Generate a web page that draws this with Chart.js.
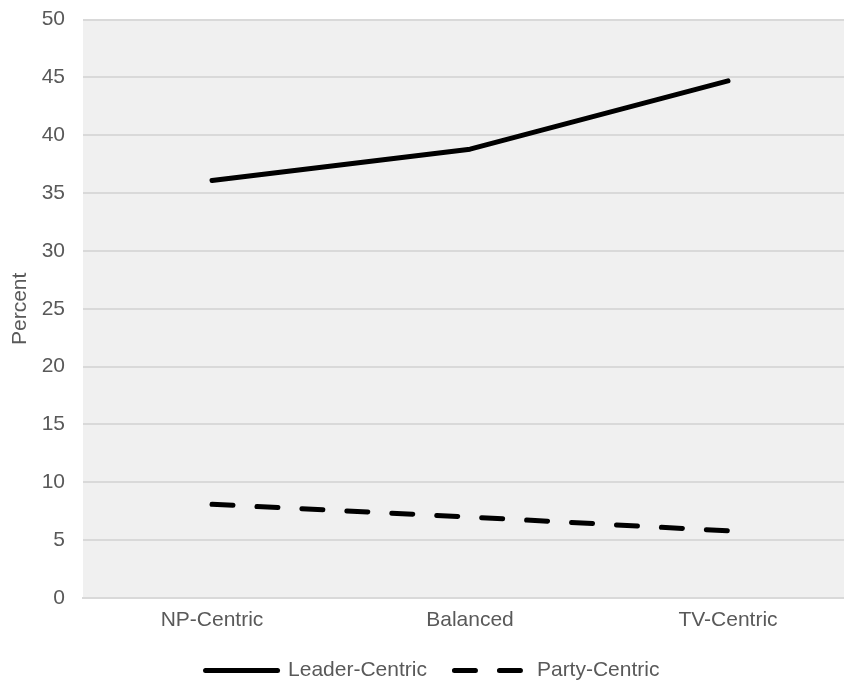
<!DOCTYPE html>
<html>
<head>
<meta charset="utf-8">
<script src="https://cdn.jsdelivr.net/npm/chart.js@4"></script>
<style>
  html, body { margin: 0; padding: 0; background: #fff; overflow: hidden; }
  #wrap { width: 865px; height: 702px; margin-top: -11px; }
</style>
</head>
<body>
<div id="wrap"><canvas id="grafica"></canvas></div>
<script>
// datos
const categorias = ["NP-Centric", "Balanced", "TV-Centric"];
const liderCentric = [36.1, 38.8, 44.7];
const partidoCentric = [8.1, 7.0, 5.8];
const ticksY = [0, 5, 10, 15, 20, 25, 30, 35, 40, 45, 50];

const gris = "#595959";
const fuente = "'Liberation Sans', Arial, sans-serif";

// fondo gris del area de trazado
const fondoArea = {
  id: "fondoArea",
  beforeDraw(chart) {
    const { ctx, chartArea } = chart;
    ctx.save();
    ctx.fillStyle = "#f0f0f0";
    ctx.fillRect(chartArea.left, chartArea.top, chartArea.right - chartArea.left, chartArea.bottom - chartArea.top);
    ctx.restore();
  }
};

const ctx = document.getElementById("grafica").getContext("2d");
new Chart(ctx, {
  type: "line",
  data: {
    labels: categorias,
    datasets: [
      {
        label: "Leader-Centric",
        data: liderCentric,
        borderColor: "#000",
        backgroundColor: "#000",
        borderWidth: 5,
        borderCapStyle: "round",
        borderJoinStyle: "round",
        pointRadius: 0,
        tension: 0,
        fill: false
      },
      {
        label: "Party-Centric",
        data: partidoCentric,
        borderColor: "#000",
        backgroundColor: "#000",
        borderWidth: 5,
        borderDash: [21, 24],
        borderCapStyle: "round",
        pointRadius: 0,
        tension: 0,
        fill: false
      }
    ]
  },
  options: {
    responsive: true,
    maintainAspectRatio: false,
    animation: false,
    layout: { padding: { top: 7, left: 8, right: 8, bottom: 0 } },
    plugins: {
      tooltip: { enabled: false },
      legend: {
        position: "bottom",
        labels: {
          usePointStyle: true,
          pointStyle: "line",
          pointStyleWidth: 72,
          boxHeight: 21,
          color: gris,
          font: { family: fuente, size: 21 },
          padding: 10,
          // el estilo de linea (guiones) se copia del dataset
          generateLabels(chart) {
            const items = Chart.defaults.plugins.legend.labels.generateLabels(chart);
            items.forEach((it, i) => {
              const ds = chart.data.datasets[it.datasetIndex];
              it.lineDash = ds.borderDash || [];
              it.lineCap = "round";
              it.lineWidth = 5;
              // un poco mas de separacion entre las dos entradas
              if (i === 0) it.text = it.text + "   ";
            });
            return items;
          }
        }
      }
    },
    scales: {
      x: {
        offset: true,
        afterFit(axis) { axis.height = 52; },
        grid: { display: false, drawTicks: false },
        border: { color: "#d9d9d9", width: 2 },
        ticks: { color: gris, font: { family: fuente, size: 21 }, padding: 10 }
      },
      y: {
        min: 0,
        max: 50,
        afterBuildTicks(axis) { axis.ticks = ticksY.map(v => ({ value: v })); },
        afterFit(axis) { axis.width = 75; },
        grid: { color: "#d9d9d9", lineWidth: 2, drawTicks: false },
        border: { display: false },
        ticks: { color: gris, font: { family: fuente, size: 21 }, padding: 18 },
        title: {
          display: true,
          text: "Percent",
          color: gris,
          font: { family: fuente, size: 21 },
          padding: { top: 0, bottom: 0 }
        }
      }
    }
  },
  plugins: [fondoArea]
});
</script>
</body>
</html>
